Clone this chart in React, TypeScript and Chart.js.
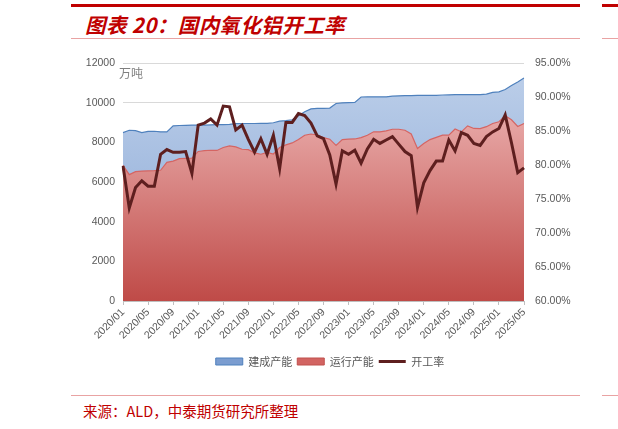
import { useEffect, useRef } from 'react';
import { Chart, registerables, type ChartConfiguration, type ScriptableContext } from 'chart.js';

Chart.register(...registerables);

const months = [
  '2020/01', '2020/02', '2020/03', '2020/04', '2020/05', '2020/06', '2020/07', '2020/08', '2020/09', '2020/10', '2020/11', '2020/12',
  '2021/01', '2021/02', '2021/03', '2021/04', '2021/05', '2021/06', '2021/07', '2021/08', '2021/09', '2021/10', '2021/11', '2021/12',
  '2022/01', '2022/02', '2022/03', '2022/04', '2022/05', '2022/06', '2022/07', '2022/08', '2022/09', '2022/10', '2022/11', '2022/12',
  '2023/01', '2023/02', '2023/03', '2023/04', '2023/05', '2023/06', '2023/07', '2023/08', '2023/09', '2023/10', '2023/11', '2023/12',
  '2024/01', '2024/02', '2024/03', '2024/04', '2024/05', '2024/06', '2024/07', '2024/08', '2024/09', '2024/10', '2024/11', '2024/12',
  '2025/01', '2025/02', '2025/03', '2025/04', '2025/05',
];

// 建成产能 (万吨)
const builtCapacity = [
  8500, 8620, 8600, 8500, 8560, 8570, 8540, 8540, 8840, 8860, 8870, 8880,
  8880, 8880, 8890, 8900, 8900, 8920, 8950, 8960, 8960, 8960, 8970, 8970,
  9000, 9080, 9110, 9150, 9350, 9550, 9700, 9720, 9720, 9740, 9970, 10000,
  10010, 10020, 10300, 10310, 10310, 10310, 10310, 10340, 10360, 10370, 10370, 10380,
  10380, 10380, 10380, 10400, 10410, 10420, 10420, 10420, 10420, 10420, 10440, 10530,
  10560, 10680, 10880, 11060, 11260,
];

// 运行产能 (万吨)
const runningCapacity = [
  6850, 6380, 6530, 6560, 6570, 6580, 6600, 7000, 7060, 7190, 7200, 7210,
  7550, 7590, 7610, 7600, 7750, 7830, 7780, 7660, 7640, 7480, 7410, 7500,
  7420, 7750, 7880, 7980, 8150, 8370, 8430, 8380, 8250, 8170, 7850, 8150,
  8170, 8180, 8250, 8370, 8540, 8540, 8590, 8670, 8670, 8620, 8430, 7700,
  7950, 8150, 8260, 8370, 8370, 8680, 8540, 8840, 8710, 8700, 8800, 8960,
  9050, 9350, 9150, 8810, 8960,
];

// 开工率 (%)
const operatingRate = [
  79.9, 73.7, 76.7, 77.7, 76.9, 76.9, 81.6, 82.3, 81.9, 81.9, 82.0, 78.8,
  85.9, 86.2, 86.8, 85.9, 88.7, 88.6, 85.2, 85.9, 83.8, 81.9, 83.9, 81.6,
  84.4, 79.5, 86.3, 86.3, 87.6, 87.3, 86.2, 84.3, 83.9, 81.5, 77.2, 82.1,
  81.6, 82.2, 80.3, 82.4, 83.8, 83.2, 83.7, 84.2, 83.1, 82.0, 81.4, 73.8,
  77.4, 79.2, 80.6, 80.6, 83.7, 82.1, 84.8, 84.4, 83.2, 82.9, 84.2, 84.9,
  85.4, 87.4, 83.3, 78.9, 79.6,
];

const seriesNames = ['建成产能', '运行产能', '开工率'];

const RED = '#c00000';
const PALE_RED = '#e9a3a3';
const AXIS_TEXT = '#595959';

function vGradient(ctx: ScriptableContext<'line'>, top: string, bottom: string, fallback: string) {
  const area = ctx.chart.chartArea;
  if (!area) return fallback;
  const g = ctx.chart.ctx.createLinearGradient(0, area.top, 0, area.bottom);
  g.addColorStop(0, top);
  g.addColorStop(1, bottom);
  return g;
}

function OperatingRateChart() {
  const canvasRef = useRef<HTMLCanvasElement>(null);

  useEffect(() => {
    const canvas = canvasRef.current;
    if (!canvas) return;

    const config: ChartConfiguration<'line'> = {
      type: 'line',
      data: {
        labels: months,
        datasets: [
          {
            label: seriesNames[0],
            data: builtCapacity,
            yAxisID: 'y',
            borderColor: '#4f81bd',
            borderWidth: 1.2,
            backgroundColor: (c) => vGradient(c, '#bed0ea', '#87a6d5', '#a9c0e2'),
            fill: 'origin',
            pointRadius: 0,
            tension: 0,
            order: 2,
          },
          {
            label: seriesNames[1],
            data: runningCapacity,
            yAxisID: 'y',
            borderColor: '#d56563',
            borderWidth: 1.2,
            backgroundColor: (c) => vGradient(c, '#f3c3c2', '#bf4a47', '#d9807e'),
            fill: 'origin',
            pointRadius: 0,
            tension: 0,
            order: 1,
          },
          {
            label: seriesNames[2],
            data: operatingRate,
            yAxisID: 'y1',
            borderColor: '#5e1f1f',
            borderWidth: 3,
            fill: false,
            pointRadius: 0,
            tension: 0,
            order: 0,
          },
        ],
      },
      options: {
        responsive: true,
        maintainAspectRatio: false,
        animation: false,
        layout: { padding: { top: 13, left: 0, right: 0, bottom: 0 } },
        plugins: {
          tooltip: { enabled: false },
          legend: {
            position: 'bottom',
            labels: {
              usePointStyle: true,
              pointStyleWidth: 27,
              boxHeight: 7,
              padding: 5,
              color: AXIS_TEXT,
              font: { family: '"Noto Sans CJK SC"', size: 11 },
              generateLabels: () => [
                { text: seriesNames[0], pointStyle: 'rect', fillStyle: '#7b9dd0', strokeStyle: '#4f81bd', lineWidth: 1, datasetIndex: 0, fontColor: AXIS_TEXT },
                { text: seriesNames[1], pointStyle: 'rect', fillStyle: '#d26462', strokeStyle: '#c0504d', lineWidth: 1, datasetIndex: 1, fontColor: AXIS_TEXT },
                { text: seriesNames[2], pointStyle: 'line', fillStyle: '#5e1f1f', strokeStyle: '#5e1f1f', lineWidth: 3, datasetIndex: 2, fontColor: AXIS_TEXT },
              ],
            },
          },
        },
        scales: {
          x: {
            offset: false,
            grid: { display: true, drawOnChartArea: false, tickLength: 4, color: '#bfbfbf' },
            border: { display: true, color: '#bfbfbf' },
            ticks: {
              autoSkip: false,
              minRotation: 45,
              maxRotation: 45,
              padding: 1,
              color: AXIS_TEXT,
              font: { size: 10.5 },
              callback: (_v, i) => (i % 4 === 0 ? months[i] : null),
            },
            afterFit: (s) => {
              s.height = 50;
            },
          },
          y: {
            position: 'left',
            min: 0,
            max: 12000,
            ticks: {
              stepSize: 2000,
              padding: 8,
              color: AXIS_TEXT,
              font: { size: 10.5 },
              callback: (v) => String(v),
            },
            grid: { color: '#d9d9d9', drawTicks: false },
            border: { display: false },
            afterFit: (s) => {
              s.width = 53;
            },
          },
          y1: {
            position: 'right',
            min: 60,
            max: 95,
            ticks: {
              stepSize: 5,
              padding: 11,
              color: AXIS_TEXT,
              font: { size: 10.5 },
              callback: (v) => Number(v).toFixed(2) + '%',
            },
            grid: { drawOnChartArea: false, drawTicks: false },
            border: { display: false },
            afterFit: (s) => {
              s.width = 66;
            },
          },
        },
      },
    };

    const chart = new Chart(canvas, config);
    return () => chart.destroy();
  }, []);

  return (
    <div style={{ position: 'absolute', left: 70, top: 46, width: 520, height: 331 }}>
      <canvas ref={canvasRef} />
    </div>
  );
}

export default function App() {
  const rule = (top: number, height: number, color: string) => (
    <>
      <div style={{ position: 'absolute', left: 71, top, width: 509, height, background: color }} />
      <div style={{ position: 'absolute', left: 602, top, width: 16, height, background: color }} />
    </>
  );

  return (
    <div
      style={{
        position: 'absolute',
        left: 0,
        top: 0,
        width: 618,
        height: 429,
        background: '#ffffff',
        overflow: 'hidden',
        fontFamily: '"Noto Sans CJK SC", sans-serif',
      }}
    >
      {rule(4, 3, RED)}
      <div
        style={{
          position: 'absolute',
          left: 85,
          top: 13,
          fontSize: 20.5,
          lineHeight: '22px',
          fontWeight: 700,
          fontStyle: 'italic',
          letterSpacing: 0.4,
          color: RED,
          whiteSpace: 'nowrap',
        }}
      >
        图表 20：国内氧化铝开工率
      </div>
      {rule(38, 1, PALE_RED)}

      <OperatingRateChart />
      <div
        style={{
          position: 'absolute',
          left: 119,
          top: 66,
          fontSize: 12,
          lineHeight: '14px',
          color: '#7f7f7f',
        }}
      >
        万吨
      </div>

      {rule(395, 1, PALE_RED)}
      <div
        style={{
          position: 'absolute',
          left: 83,
          top: 402,
          fontSize: 14.5,
          lineHeight: '18px',
          color: RED,
          whiteSpace: 'nowrap',
        }}
      >
        来源：ALD，中泰期货研究所整理
      </div>
    </div>
  );
}
